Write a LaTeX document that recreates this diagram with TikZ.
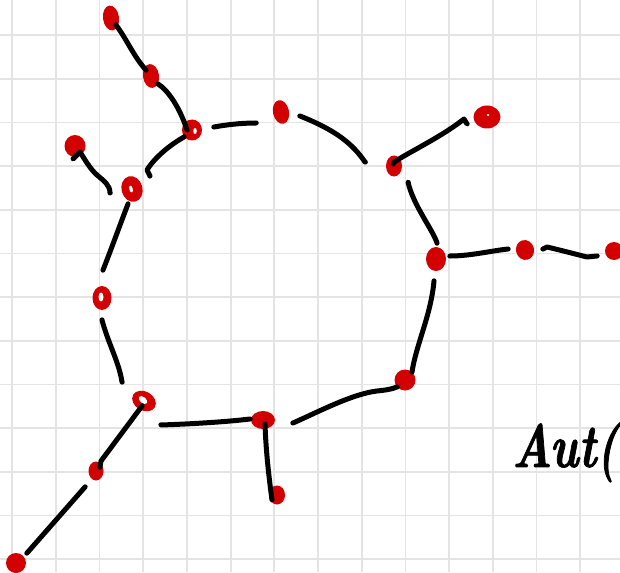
\documentclass[tikz,border=0pt]{standalone}
\usepackage{fontspec}
\usepackage{graphicx}
\usetikzlibrary{shapes.geometric}
\newfontfamily\handfont{Latin Modern Roman}[BoldItalicFeatures={FakeBold=1.5}]
\definecolor{dotred}{RGB}{210,0,0}
\definecolor{gridgray}{RGB}{228,228,228}
\begin{document}
\begin{tikzpicture}[x=1pt,y=-1pt,
  gridline/.style={draw=gridgray, line width=1.8pt},
  vert/.style={ellipse, fill=dotred, draw=none, inner sep=0pt},
  hole/.style={ellipse, fill=white, draw=none, inner sep=0pt},
  edge/.style={draw=black, line width=5pt, line cap=round, line join=round},
  handtext/.style={inner sep=0pt, font=\fontsize{61pt}{61pt}\selectfont\handfont\bfseries\itshape}]
\useasboundingbox (0,0) rectangle (620,572);
\fill[white] (0,0) rectangle (620,572);
% grid
\foreach \k in {0,...,13} \draw[gridline] ({12.2+43.69*\k},0) -- ({12.2+43.69*\k},572);
\foreach \k in {0,...,12} \draw[gridline] (0,{35.2+43.66*\k}) -- (620,{35.2+43.66*\k});
% vertices
\node[vert, minimum width=16pt, minimum height=25pt, rotate=8] (v1) at (111,18) {};
\node[vert, minimum width=16pt, minimum height=24pt, rotate=8] (v2) at (151,76) {};
\node[vert, minimum width=20pt, minimum height=21pt] (A) at (192,130) {};
\node[vert, minimum width=16pt, minimum height=24pt, rotate=12] (B) at (281,112) {};
\node[vert, minimum width=16pt, minimum height=21pt] (C) at (394,166) {};
\node[vert, minimum width=27pt, minimum height=23pt] (v3) at (487,117) {};
\node[vert, minimum width=20pt, minimum height=24pt] (D) at (436,259) {};
\node[vert, minimum width=18pt, minimum height=20pt, rotate=15] (v4) at (525,250) {};
\node[vert, minimum width=18pt, minimum height=18pt] (v5) at (614,251) {};
\node[vert, minimum width=21pt, minimum height=21pt] (E) at (405,380) {};
\node[vert, minimum width=24pt, minimum height=18pt] (F) at (263,420) {};
\node[vert, minimum width=16pt, minimum height=19pt] (v6) at (277,495) {};
\node[vert, minimum width=25pt, minimum height=19pt, rotate=-30] (G) at (144,401) {};
\node[vert, minimum width=15pt, minimum height=19pt] (v7) at (96,471) {};
\node[vert, minimum width=20pt, minimum height=20pt] (v8) at (16,563) {};
\node[vert, minimum width=19pt, minimum height=24pt] (H) at (102,298) {};
\node[vert, minimum width=21pt, minimum height=26pt, rotate=15] (I) at (132,189) {};
\node[vert, minimum width=21pt, minimum height=22pt] (v9) at (75,146) {};
% white marks inside some dots
\node[hole, minimum width=3.5pt, minimum height=6pt] (Ah) at (195,131) {};
\node[hole, minimum width=10pt, minimum height=6pt, rotate=-40] (Gh) at (143,400) {};
\node[hole, minimum width=5pt, minimum height=9pt] (Hh) at (101,297) {};
\node[hole, minimum width=3.5pt, minimum height=7pt, rotate=15] (Ih) at (131,189) {};
\node[hole, minimum width=3pt, minimum height=2pt] (v3h) at (488,115) {};
% edges
\draw[edge, shorten <=8.4pt, shorten >=7.6pt] (v1.center) -- (116,25) .. controls (126,38) and (134,57) .. (146,70) -- (v2.center);
\draw[edge, shorten <=10.4pt, shorten >=4.8pt] (v2.center) -- (158,84) .. controls (168,90) and (180,108) .. (187,130) -- (A.center);
\draw[edge, shorten <=10.4pt, shorten >=22pt] (A.center) -- (184,137) .. controls (170,145) and (155,157) .. (147,170) -- (150,176) -- (I.center);
\draw[edge, shorten <=22.1pt, shorten >=12.9pt] (I.center) -- (110,193) .. controls (110,185) and (104,181) .. (97,175) .. controls (90,169) and (84,158) .. (80,152) -- (73,159) -- (v9.center);
\draw[edge, shorten <=15.3pt, shorten >=27.8pt] (I.center) -- (128,204) .. controls (121,222) and (111,250) .. (103,270) -- (H.center);
\draw[edge, shorten <=21.8pt, shorten >=28.8pt] (H.center) -- (102,320) .. controls (108,343) and (119,362) .. (122,382) -- (G.center);
\draw[edge, shorten <=5.2pt, shorten >=5.4pt] (G.center) -- (142,406) -- (101,461) -- (100,467) -- (v7.center);
\draw[edge, shorten <=19.2pt, shorten >=14.6pt] (v7.center) -- (85,487) -- (27,553) -- (v8.center);
\draw[edge, shorten <=29.2pt, shorten >=12.8pt] (G.center) -- (161,425) .. controls (190,424) and (225,422) .. (250,419) -- (F.center);
\draw[edge, shorten <=4.3pt, shorten >=6.9pt] (F.center) -- (265,424) .. controls (266,455) and (270,485) .. (272,500) -- (v6.center);
\draw[edge, shorten <=29.9pt, shorten >=10.4pt] (F.center) -- (293,423) .. controls (318,412) and (352,394) .. (377,391) .. controls (387,390) and (392,389) .. (397,387) -- (E.center);
\draw[edge, shorten <=10.4pt, shorten >=21.9pt] (E.center) -- (412,372) .. controls (416,345) and (431,315) .. (434,281) -- (D.center);
\draw[edge, shorten <=14.1pt, shorten >=16.8pt] (D.center) -- (450,256) .. controls (470,256) and (490,251) .. (508,249) -- (v4.center);
\draw[edge, shorten <=17.8pt, shorten >=17.5pt] (v4.center) -- (543,249) -- (547,247) .. controls (560,250) and (575,254) .. (587,257) -- (597,256) -- (v5.center);
\draw[edge, shorten <=15.8pt, shorten >=21.8pt] (D.center) -- (437,243) .. controls (433,230) and (413,205) .. (408,182) -- (C.center);
\draw[edge, shorten <=2pt, shorten >=21pt] (C.center) -- (393,163) .. controls (405,154) and (440,138) .. (464,119) -- (467,124) -- (v3.center);
\draw[edge, shorten <=28.9pt, shorten >=19.2pt] (C.center) -- (365,162) .. controls (352,143) and (335,130) .. (300,116) -- (B.center);
\draw[edge, shorten <=27.1pt, shorten >=22pt] (B.center) -- (256,123) .. controls (240,123) and (225,125) .. (214,127) -- (A.center);
% text
\node[handtext, anchor=base west] (aut) at (512,467) {\scalebox{0.76}[1]{Aut(}};
\end{tikzpicture}
\end{document}
